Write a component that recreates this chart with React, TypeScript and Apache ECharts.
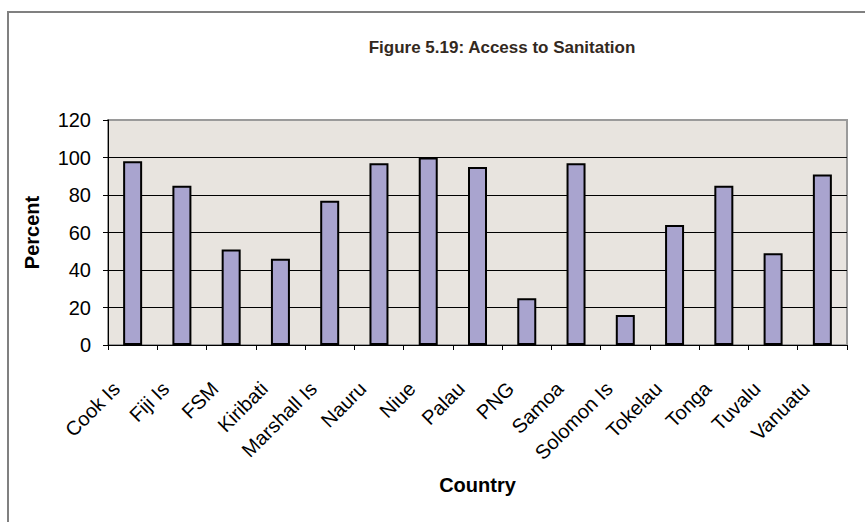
import React, { useEffect, useRef } from "react";
import * as echarts from "echarts";

const countries = [
  "Cook Is", "Fiji Is", "FSM", "Kiribati", "Marshall Is", "Nauru", "Niue", "Palau",
  "PNG", "Samoa", "Solomon Is", "Tokelau", "Tonga", "Tuvalu", "Vanuatu",
];
const sanitation = [98, 85, 51, 46, 77, 97, 100, 95, 25, 97, 16, 64, 85, 49, 91];
const yTicks = { min: 0, max: 120, interval: 20 };

const titleText = "Figure 5.19: Access to Sanitation";
const xName = "Country";
const yName = "Percent";

export default function App() {
  const ref = useRef<HTMLDivElement>(null);
  useEffect(() => {
    if (!ref.current) return;
    const chart = echarts.init(ref.current, null, { renderer: "svg" });
    const font = "Arial, 'Liberation Sans', sans-serif";
    chart.setOption({
      animation: false,
      backgroundColor: "#ffffff",
      textStyle: { fontFamily: font },
      title: {
        text: titleText,
        left: 497,
        top: 34,
        textAlign: "center",
        textStyle: { fontSize: 17, fontWeight: "bold", color: "#33291e", fontFamily: font },
      },
      graphic: [
        {
          type: "rect",
          shape: { x: 8, y: 12, width: 900, height: 600 },
          style: { fill: "none", stroke: "#808080", lineWidth: 2 },
          silent: true,
          z: 100,
        },
      ],
      grid: {
        left: 108,
        right: 18,
        top: 120,
        bottom: 177,
        show: true,
        backgroundColor: "#e8e4df",
        borderColor: "#9a9a9a",
        borderWidth: 2,
      },
      xAxis: {
        type: "category",
        data: countries,
        name: xName,
        nameLocation: "middle",
        nameGap: 130,
        nameTextStyle: { fontSize: 20, fontWeight: "bold", color: "#000", fontFamily: font },
        axisLine: { show: true, lineStyle: { color: "#000", width: 1 } },
        axisTick: { show: true, length: 5, lineStyle: { color: "#000" } },
        axisLabel: {
          rotate: 45,
          interval: 0,
          fontSize: 20,
          color: "#000",
          margin: 24,
          padding: [0, 23, 0, 0],
          fontFamily: font,
        },
      },
      yAxis: {
        type: "value",
        min: yTicks.min,
        max: yTicks.max,
        interval: yTicks.interval,
        name: yName,
        nameLocation: "middle",
        nameGap: 66,
        nameRotate: 90,
        nameTextStyle: { fontSize: 20, fontWeight: "bold", color: "#000", fontFamily: font },
        axisLine: { show: true, lineStyle: { color: "#000", width: 1 } },
        axisTick: { show: true, length: 5, lineStyle: { color: "#000" } },
        axisLabel: { fontSize: 20, color: "#000", margin: 17, fontFamily: font },
        splitLine: { show: true, showMaxLine: false, lineStyle: { color: "#000", width: 1 } },
      },
      series: [
        {
          type: "bar",
          data: sanitation,
          barWidth: 19,
          itemStyle: { color: "#a9a4cf", borderColor: "#000", borderWidth: 2 },
        },
      ],
    });
    return () => chart.dispose();
  }, []);
  return (
    <div
      ref={ref}
      style={{ position: "fixed", left: 0, top: 0, width: 865, height: 522 }}
    />
  );
}
